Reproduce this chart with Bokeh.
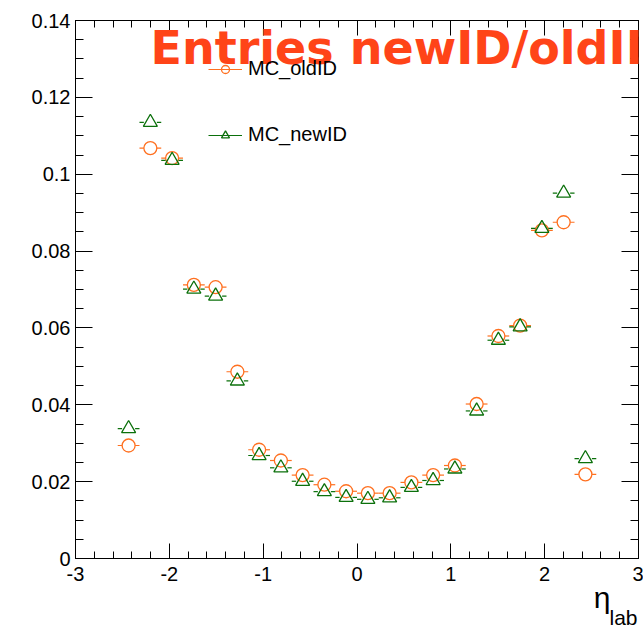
from bokeh.plotting import figure
from bokeh.models import (Label, Legend, LegendItem, LinearAxis, FixedTicker,
                          ColumnDataSource, Title)
from bokeh.embed import file_html
from bokeh.resources import INLINE

# eta_lab binning: 22 bins between -2.55 and 2.55
eta_min, eta_max, n_bins = -2.55, 2.55, 22

# normalised entries per bin
mc_old = [0.0294, 0.1068, 0.1042, 0.0712, 0.0706, 0.0486, 0.0283, 0.0255,
          0.0217, 0.0192, 0.0175, 0.0170, 0.0170, 0.0198, 0.0217, 0.0242,
          0.0402, 0.0579, 0.0606, 0.0854, 0.0875, 0.0219]
mc_new = [0.0338, 0.1135, 0.1036, 0.0701, 0.0683, 0.0462, 0.0268, 0.0236,
          0.0201, 0.0174, 0.0159, 0.0154, 0.0158, 0.0185, 0.0203, 0.0233,
          0.0384, 0.0568, 0.0603, 0.0859, 0.0951, 0.0260]

x_ticks = [-3, -2, -1, 0, 1, 2, 3]
x_tick_labels = ["-3", "-2", "-1", "0", "1", "2", "3"]
y_ticks = [0.0, 0.02, 0.04, 0.06, 0.08, 0.1, 0.12, 0.14]
y_tick_labels = ["0", "0.02", "0.04", "0.06", "0.08", "0.1", "0.12", "0.14"]

bin_w = (eta_max - eta_min) / n_bins
centers = [eta_min + bin_w * (i + 0.5) for i in range(n_bins)]

W, H = 643, 635
L, R, T, B = 75, 5, 20, 77
x_range = (-3, 3)
y_range = (0, 0.14)

p = figure(width=W, height=H, x_range=x_range, y_range=y_range,
           output_backend="svg", toolbar_location=None,
           min_border_left=L, min_border_right=R, min_border_top=T,
           min_border_bottom=B)
p.grid.visible = False
p.outline_line_color = "black"
p.outline_line_width = 1
p.background_fill_color = "white"
p.border_fill_color = "white"

FONT = "Liberation Sans"

x_minor = [-3 + i * 0.2 for i in range(31)]
y_minor = [i * 0.005 for i in range(29)]


def style_axis(ax, ticker, major_len, minor_len, labels=True):
    ax.ticker = ticker
    ax.axis_line_color = "black"
    ax.major_tick_line_color = "black"
    ax.minor_tick_line_color = "black"
    ax.major_tick_in = major_len
    ax.major_tick_out = 0
    ax.minor_tick_in = minor_len
    ax.minor_tick_out = 0
    if labels:
        ax.major_label_text_font = FONT
        ax.major_label_text_font_size = "20px"
        ax.major_label_text_color = "black"
    else:
        ax.major_label_text_font_size = "0px"
        ax.major_label_standoff = 0


style_axis(p.xaxis[0], FixedTicker(ticks=x_ticks, minor_ticks=x_minor), 15, 7)
p.xaxis[0].major_label_standoff = 8
p.xaxis[0].major_label_overrides = dict(zip(x_ticks, x_tick_labels))
style_axis(p.yaxis[0], FixedTicker(ticks=y_ticks, minor_ticks=y_minor), 17, 8)
p.yaxis[0].major_label_standoff = 5
p.yaxis[0].major_label_overrides = dict(zip(y_ticks, y_tick_labels))

top = LinearAxis()
style_axis(top, FixedTicker(ticks=x_ticks, minor_ticks=x_minor), 15, 7, False)
p.add_layout(top, "above")
right = LinearAxis()
style_axis(right, FixedTicker(ticks=y_ticks, minor_ticks=y_minor), 17, 8, False)
p.add_layout(right, "right")

# horizontal bin-width bars, split around the marker
px_per_unit = (W - L - R) / (x_range[1] - x_range[0])
gap = 6.5 / px_per_unit


def series(vals, color, marker, size):
    src = ColumnDataSource(dict(
        x=centers, y=vals,
        xl0=[c - bin_w / 2 for c in centers], xl1=[c - gap for c in centers],
        xr0=[c + gap for c in centers], xr1=[c + bin_w / 2 for c in centers]))
    s1 = p.segment("xl0", "y", "xl1", "y", source=src, line_color=color, line_width=1.2)
    p.segment("xr0", "y", "xr1", "y", source=src, line_color=color, line_width=1.2)
    m = p.scatter("x", "y", source=src, marker=marker, size=size,
                  line_color=color, fill_color=None, line_width=1.3)
    return [s1, m]


old_r = series(mc_old, "#ff7020", "circle", 13)
new_r = series(mc_new, "#0b700b", "triangle", 14)

legend = Legend(items=[LegendItem(label="MC_oldID", renderers=old_r),
                       LegendItem(label="MC_newID", renderers=new_r)],
                location=(133, 412), orientation="vertical")
legend.border_line_color = None
legend.background_fill_alpha = 0
legend.glyph_width = 34
legend.glyph_height = 20
legend.label_height = 20
legend.spacing = 43
legend.padding = 0
legend.margin = 0
legend.label_standoff = 6
legend.label_text_font = FONT
legend.label_text_font_size = "20px"
legend.label_text_color = "black"
p.add_layout(legend)

# histogram title inside the frame
title = Label(x=75, y=511, x_units="screen", y_units="screen",
              text="Entries newID/oldID", text_font="DejaVu Sans",
              text_font_style="bold", text_font_size="46px",
              text_color="#ff4418", text_baseline="alphabetic")
p.add_layout(title)

# x-axis title: eta with a "lab" subscript, right-aligned under the axis
eta = Title(text="η", align="right", offset=28, standoff=-9,
            text_font=FONT, text_font_size="30px", text_font_style="normal",
            text_color="black")
lab = Title(text="lab", align="right", offset=1, standoff=-11,
            text_font=FONT, text_font_size="21px", text_font_style="normal",
            text_color="black")
p.add_layout(eta, "below")
p.add_layout(lab, "below")

open("out.html", "w").write(file_html(p, INLINE))
